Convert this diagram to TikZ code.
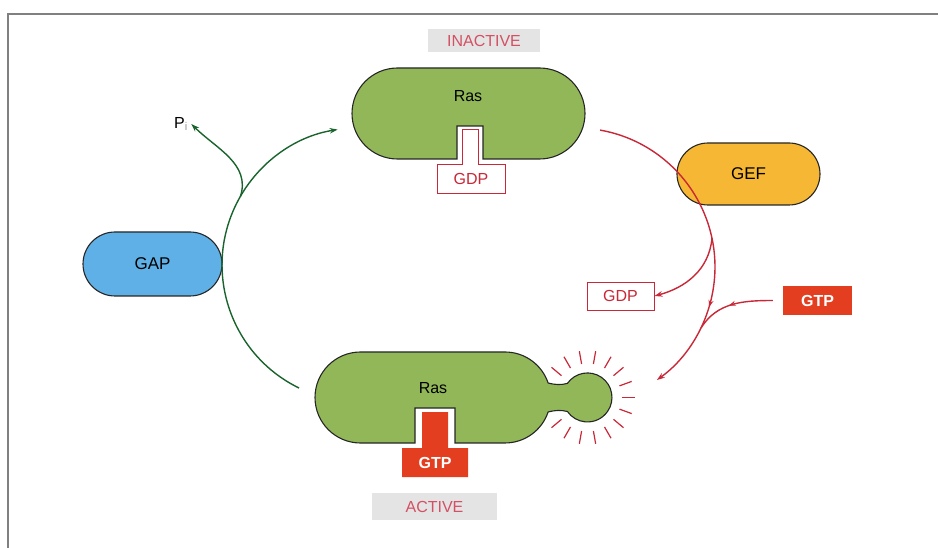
\documentclass[tikz,border=0pt]{standalone}
\usepackage{fontspec}
\setmainfont{Liberation Sans}
\usetikzlibrary{arrows.meta,shapes.misc,decorations.markings}
\definecolor{rasgreen}{RGB}{146,183,88}
\definecolor{gapblue}{RGB}{95,176,230}
\definecolor{geforange}{RGB}{246,184,52}
\definecolor{gtpred}{RGB}{228,62,32}
\definecolor{linered}{RGB}{200,40,55}
\definecolor{cyclegreen}{RGB}{25,100,45}
\definecolor{labelpink}{RGB}{212,80,100}
\definecolor{labelgray}{RGB}{228,228,228}
\definecolor{framegray}{RGB}{128,128,128}
\tikzset{
  protein/.style={draw=black!85,line width=1.1pt,fill=rasgreen},
  enzyme/.style={rounded rectangle,draw=black!85,line width=1.1pt,inner sep=0pt,
    font=\fontsize{17}{20}\selectfont},
  gdpbox/.style={draw=linered,fill=white,line width=0.9pt,text=linered,
    minimum width=67pt,minimum height=28pt,inner sep=0pt,font=\fontsize{16}{18}\selectfont},
  gtpbox/.style={fill=gtpred,text=white,minimum width=69pt,minimum height=29pt,
    inner sep=0pt,font=\bfseries\fontsize{16}{18}\selectfont},
  statelabel/.style={fill=labelgray,text=labelpink,inner sep=0pt,
    font=\fontsize{16}{18}\selectfont},
  rastext/.style={font=\fontsize{16}{18}\selectfont},
  gefarrow/.style={->,draw=linered,line width=1.4pt},
  gaparrow/.style={->,draw=cyclegreen,line width=1.4pt},
  midarrow/.style={postaction=decorate,decoration={markings,
    mark=at position #1 with {\arrow{Stealth[length=7pt,width=5pt]}}}}
}

\begin{document}
\begin{tikzpicture}[x=1pt,y=1pt,>={Stealth[length=8pt,width=5.5pt]}]
  \useasboundingbox (0,0) rectangle (938,-548);
  \draw[framegray,line width=2pt] (938,-14) -- (8,-14) -- (8,-548);

  \node[statelabel,minimum width=112pt,minimum height=23pt] (inactive) at (484,-40.5) {INACTIVE};
  \node[statelabel,minimum width=125pt,minimum height=27pt] (active) at (434.5,-506.5) {ACTIVE};

  % inactive Ras with GDP
  \draw[protein] (397.5,-68) -- (539.5,-68) arc[start angle=90,end angle=-90,radius=45.5]
    -- (483,-159) -- (483,-126) -- (457,-126) -- (457,-159) -- (397.5,-159)
    arc[start angle=270,end angle=90,radius=45.5] -- cycle;
  \draw[draw=linered,fill=white,line width=0.9pt] (462,-129) -- (478,-129) -- (478,-164)
    -- (505,-164) -- (505,-193) -- (437,-193) -- (437,-164) -- (462,-164) -- cycle;
  \node[rastext] (rasoff) at (468,-96) {Ras};
  \node[text=linered,font=\fontsize{16}{18}\selectfont] (gdpin) at (471,-179) {GDP};

  % active Ras with GTP
  \draw[protein] (360.5,-352) -- (505,-352) arc[start angle=90,end angle=18.6,radius=45.5]
    .. controls (556,-385) and (561,-385) .. (567.4,-383.4)
    arc[start angle=145,end angle=-145,radius=24.5]
    .. controls (561,-410) and (556,-410) .. (548.1,-412)
    arc[start angle=-18.6,end angle=-90,radius=45.5]
    -- (455,-443) -- (455,-408) -- (415,-408) -- (415,-443) -- (360.5,-443)
    arc[start angle=270,end angle=90,radius=45.5] -- cycle;
  \fill[gtpred] (422,-412) -- (448,-412) -- (448,-448) -- (468,-448) -- (468,-477)
    -- (402,-477) -- (402,-448) -- (422,-448) -- cycle;
  \node[rastext] (rason) at (433,-388) {Ras};
  \node[text=white,font=\bfseries\fontsize{16}{18}\selectfont] (gtpin) at (435,-463) {GTP};
  \foreach \a in {140,120,...,-140}
    \draw[linered,line width=1.2pt] (587.5,-397.5) ++(\a:34) -- ++(\a:13);

  \node[enzyme,fill=geforange,minimum width=143pt,minimum height=62pt] (gef) at (748.5,-174) {GEF};
  \node[enzyme,fill=gapblue,minimum width=139pt,minimum height=64pt] (gap) at (152.5,-264) {GAP};
  \node[gdpbox] (gdpout) at (620.5,-296) {GDP};
  \node[gtpbox] (gtpout) at (817.5,-300.5) {GTP};
  \node[font=\fontsize{16}{18}\selectfont] (pi) at (181,-124) {P\textsubscript{\textcolor{black!40}{i}}};

  \coordinate (rasonW) at (299,-388);
  \coordinate (piout) at (240.4,-196.5);
  \coordinate (rasoffE) at (600.1,-130.1);
  \coordinate (gdprel) at (712,-238);
  \coordinate (gtpjoin) at (701,-328);

  \draw[gaparrow] (rasonW) arc[start angle=244,end angle=99,radius=137];
  \draw[gaparrow] (piout) to[out=72,in=-45] (pi.east);
  \draw[gefarrow,midarrow=0.72] (rasoffE) arc[start angle=80,end angle=-54.4,radius=139];
  \draw[gefarrow] (gdprel) to[out=-95,in=15] (gdpout.east);
  \draw[draw=linered,line width=1.4pt,midarrow=0.55] ([xshift=-10pt]gtpout.west) to[out=180,in=58] (gtpjoin);
\end{tikzpicture}
\end{document}
